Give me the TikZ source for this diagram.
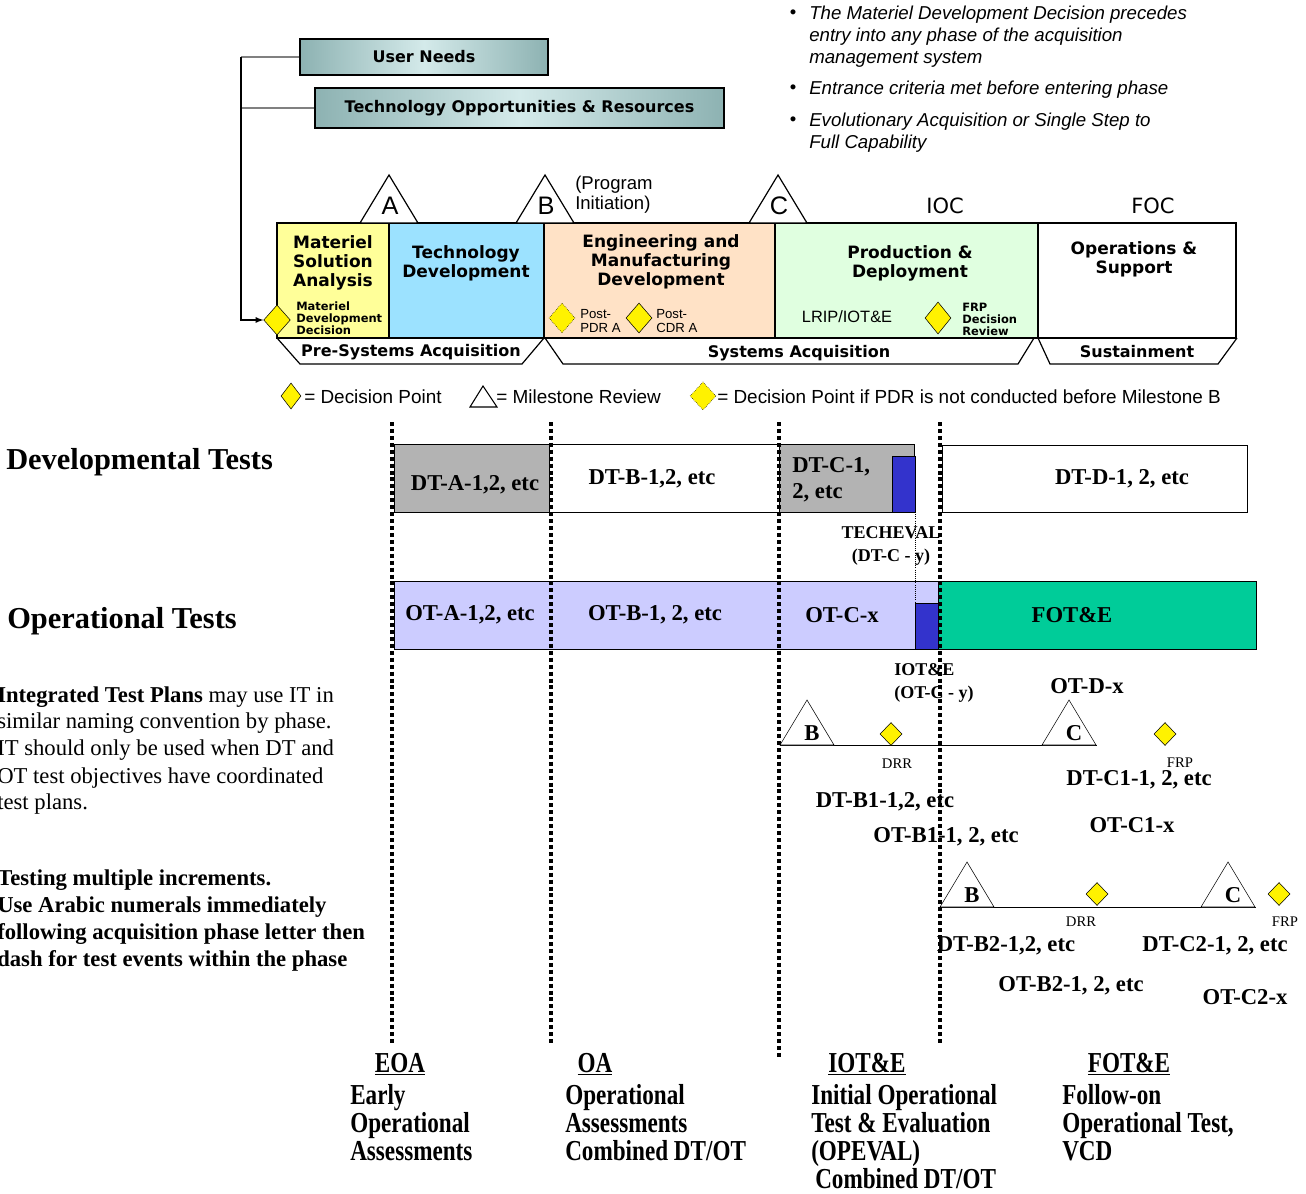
\documentclass[tikz,border=0pt]{standalone}
\usepackage{fontspec}
\setmainfont{Liberation Serif}
\newfontfamily\verd{DejaVu Sans}
\newfontfamily\arial{Liberation Sans}
\newfontfamily\narrowserif[FakeStretch=0.8]{Liberation Serif}
\usetikzlibrary{shapes.geometric}

\definecolor{needsteal}{HTML}{8DB2B2}
\definecolor{needslight}{HTML}{D4EAEA}
\definecolor{msayellow}{HTML}{FFFF99}
\definecolor{tdblue}{HTML}{9CE2FF}
\definecolor{emdpeach}{HTML}{FFE2C6}
\definecolor{pdgreen}{HTML}{E0FFE0}
\definecolor{dtgray}{HTML}{B3B3B3}
\definecolor{otlav}{HTML}{CCCCFF}
\definecolor{evalblue}{HTML}{3333CC}
\definecolor{fotgreen}{HTML}{00CC99}

\tikzset{
  inputbox/.style={draw, line width=1pt, left color=needsteal, right color=needsteal,
    middle color=needslight, font=\verd\bfseries\fontsize{12}{14}\selectfont, inner sep=0pt},
  phasename/.style={font=\verd\bfseries\fontsize{12.75}{14.25}\selectfont, align=center},
  tinytxt/.style={font=\verd\bfseries\fontsize{8.6}{9}\selectfont, align=left, anchor=west, inner sep=0pt},
  smallarial/.style={font=\arial\fontsize{9.9}{10.5}\selectfont, align=left, anchor=west, inner sep=0pt},
  band/.style={font=\verd\bfseries\fontsize{12}{14}\selectfont},
  capstone/.style={font=\verd\fontsize{15.75}{18}\selectfont},
  mslabel/.style={font=\arial\fontsize{19}{20}\selectfont, inner sep=0pt},
  legendtxt/.style={font=\arial\fontsize{14.2}{15}\selectfont, anchor=west, inner sep=0pt},
  bullettxt/.style={font=\arial\itshape\fontsize{14}{16.5}\selectfont, align=left,
    anchor=north west, inner sep=0pt},
  decision/.style={diamond, draw, fill=yellow, inner sep=0pt, minimum width=19.5pt, minimum height=22.5pt},
  pdrpoint/.style={decision, densely dotted},
  incdec/.style={decision, minimum width=16.5pt, minimum height=17.25pt},
  testlbl/.style={font=\bfseries\fontsize{17}{19.5}\selectfont, inner sep=0pt},
  smalllbl/.style={font=\bfseries\fontsize{13.5}{17}\selectfont, align=center, inner sep=0pt},
  reviewlbl/.style={font=\fontsize{11}{12}\selectfont, inner sep=0pt},
  rowtitle/.style={font=\bfseries\fontsize{22.8}{26}\selectfont, anchor=west, inner sep=0pt},
  notetxt/.style={font=\fontsize{17}{20.25}\selectfont, align=left, anchor=north west, inner sep=0pt},
  headtxt/.style={font=\narrowserif\bfseries\fontsize{21.7}{21}\selectfont, inner sep=0pt},
  blocktxt/.style={font=\narrowserif\bfseries\fontsize{21.7}{21}\selectfont, align=left,
    anchor=north west, inner sep=0pt},
  phaseline/.style={line width=2.7pt, dash pattern=on 3pt off 2.2pt},
}

\begin{document}
\begin{tikzpicture}[x=0.75pt, y=-0.75pt]
\useasboundingbox (0,0) rectangle (1306,1194);
\clip (0,0) rectangle (1306,1194);

% inputs to the materiel development decision
\node[inputbox, minimum width=186pt, minimum height=27pt] (needs) at (424,57) {User Needs};
\node[inputbox, minimum width=306.75pt, minimum height=30pt] (techopp) at (519.5,108)
  {Technology Opportunities \& Resources};
\coordinate (rail) at (241,57);

% phases
\filldraw[line width=0.9pt, fill=msayellow] (277,223) rectangle (389,338);
\filldraw[line width=0.9pt, fill=tdblue] (389,223) rectangle (544,338);
\filldraw[line width=0.9pt, fill=emdpeach] (544,223) rectangle (775,338);
\filldraw[line width=0.9pt, fill=pdgreen] (775,223) rectangle (1038,338);
\draw[line width=0.9pt] (1038,223) rectangle (1236,338);

\node[phasename] (msa) at (333,263) {Materiel\\Solution\\Analysis};
\node[phasename] (td) at (466,263) {Technology\\Development};
\node[phasename] (emd) at (661,262) {Engineering and\\Manufacturing\\Development};
\node[phasename] (pd) at (910,263) {Production \&\\Deployment};
\node[phasename] (os) at (1134,259) {Operations \&\\Support};

\node[decision, minimum width=20pt] (mdd) at (277,320) {};
\node[tinytxt] (mddtxt) at (296,318) {Materiel\\Development\\Decision};
\node[pdrpoint] (postpdr) at (562,318) {};
\node[smallarial] (postpdrtxt) at (580,321) {Post-\\PDR A};
\node[decision] (postcdr) at (639,318) {};
\node[smallarial] (postcdrtxt) at (656,321) {Post-\\CDR A};
\node[font=\arial\fontsize{12.3}{14}\selectfont] (lrip) at (847,317) {LRIP/IOT\&E};
\node[decision, minimum height=24pt] (frp) at (938,318) {};
\node[tinytxt] (frptxt) at (962,319) {FRP\\Decision\\Review};

\draw[gray, line width=1pt] (needs.west) -- (rail);
\draw[gray, line width=1pt] (techopp.west) -- (techopp.west -| rail);
\draw[line width=1pt, -latex] (rail) |- (mdd.west);

% milestones
\foreach \x/\l in {389/A, 545/B, 778/C} {
  \draw[line width=0.9pt, fill=white] (\x-29,223) -- (\x,175) -- (\x+29,223) -- cycle;
  \node[mslabel] (ms\l) at (\x+1,206) {\l};
}
\node[font=\arial\fontsize{13.9}{15}\selectfont, align=left, anchor=west, inner sep=0pt]
  (proginit) at (575,195) {(Program\\Initiation)};
\node[capstone] (ioc) at (945,206) {IOC};
\node[capstone] (foc) at (1153,206) {FOC};

% acquisition bands
\draw[line width=0.9pt] (277,338) -- (300,364) -- (522,364) -- (544,338);
\draw[line width=0.9pt] (545,338) -- (563,364) -- (1018,364) -- (1034,338);
\draw[line width=0.9pt] (1038,338) -- (1050,364) -- (1218,364) -- (1237,338);
\node[band] (presys) at (411,352) {Pre-Systems Acquisition};
\node[band] (sysacq) at (799,353) {Systems Acquisition};
\node[band] (sustain) at (1137,352) {Sustainment};

% legend
\node[decision, minimum width=15pt, minimum height=19.5pt] (keydec) at (291,396) {};
\node[legendtxt] (keydectxt) at (304,397) {= Decision Point};
\draw[line width=0.8pt] (470,407) -- (483,386) -- (497,407) -- cycle;
\node[legendtxt] (keymstxt) at (496,397) {= Milestone Review};
\node[pdrpoint, minimum height=21pt] (keypdr) at (703,396) {};
\node[legendtxt] (keypdrtxt) at (717,397) {= Decision Point if PDR is not conducted before Milestone B};

% notes
\foreach \y/\n in {14/1, 89/2, 121/3}
  \node[font=\arial\fontsize{13.9}{15}\selectfont, inner sep=0pt] (dot\n) at (793,\y) {\textbullet};
\node[bullettxt] (note1) at (809,6) {The Materiel Development Decision precedes\\entry into any phase of the acquisition\\management system};
\node[bullettxt] (note2) at (809,81) {Entrance criteria met before entering phase};
\node[bullettxt] (note3) at (809,113) {Evolutionary Acquisition or Single Step to\\Full Capability};

% test rows
\node[rowtitle] (dtrow) at (6,462) {Developmental Tests};
\node[rowtitle] (otrow) at (7,621) {Operational Tests};

\filldraw[fill=dtgray] (394,444) rectangle (549,512);
\draw (549,444) rectangle (779,512);
\filldraw[fill=dtgray] (779,444) rectangle (914,512);
\filldraw[fill=evalblue] (892,456) rectangle (915,512);
\draw (942,445) rectangle (1247,512);
\node[testlbl] (dta) at (475,485) {DT-A-1,2, etc};
\node[testlbl] (dtb) at (652,479) {DT-B-1,2, etc};
\node[testlbl, align=left, anchor=west] (dtc) at (792,480) {DT-C-1,\\2, etc};
\node[testlbl] (dtd) at (1122,479) {DT-D-1, 2, etc};
\node[smalllbl] (techeval) at (891,546) {TECHEVAL\\(DT-C - y)};

\filldraw[fill=otlav] (394,581) rectangle (938,649);
\filldraw[fill=evalblue] (915,603) rectangle (938,649);
\filldraw[fill=fotgreen] (938,581) rectangle (1256,649);
\node[testlbl] (ota) at (470,615) {OT-A-1,2, etc};
\node[testlbl] (otb) at (655,615) {OT-B-1, 2, etc};
\node[testlbl] (otc) at (842,615) {OT-C-x};
\node[testlbl] (fote) at (1072,615) {FOT\&E};
\node[smalllbl, align=left, anchor=west] (ioteval) at (894,683) {IOT\&E\\(OT-C - y)};
\node[testlbl] (otd) at (1087,686) {OT-D-x};

% increments
\draw (780,745) -- (1097,745);
\draw (940,907) -- (1256,907);
\foreach \x/\y/\l/\n in {807/745/B/bone, 1069/745/C/cone, 967/907/B/btwo, 1228/907/C/ctwo} {
  \draw[fill=white] (\x-27,\y) -- (\x,\y-45) -- (\x+27,\y) -- cycle;
  \node[testlbl] (\n) at (\x+5,\y-12) {\l};
}
\node[incdec] (drrone) at (891,734) {};
\node[incdec] (frpone) at (1165,734) {};
\node[incdec] (drrtwo) at (1097,894) {};
\node[incdec] (frptwo) at (1279,894) {};
\node[reviewlbl] (drronetxt) at (897,764) {DRR};
\node[reviewlbl] (frponetxt) at (1180,763) {FRP};
\node[reviewlbl] (drrtwotxt) at (1081,922) {DRR};
\node[reviewlbl] (frptwotxt) at (1285,922) {FRP};

\node[testlbl] (dtbone) at (885,802) {DT-B1-1,2, etc};
\node[testlbl] (otbone) at (946,837) {OT-B1-1, 2, etc};
\node[testlbl] (dtcone) at (1139,780) {DT-C1-1, 2, etc};
\node[testlbl] (otcone) at (1132,825) {OT-C1-x};
\node[testlbl] (dtbtwo) at (1006,946) {DT-B2-1,2, etc};
\node[testlbl] (otbtwo) at (1071,986) {OT-B2-1, 2, etc};
\node[testlbl] (dtctwo) at (1215,946) {DT-C2-1, 2, etc};
\node[testlbl] (otctwo) at (1245,997) {OT-C2-x};

% naming notes
\node[notetxt] (itp) at (-3,686) {\textbf{Integrated Test Plans} may use IT in\\similar naming convention by phase.\\IT should only be used when DT and\\OT test objectives have coordinated\\test plans.};
\node[notetxt, font=\bfseries\fontsize{17}{20.25}\selectfont] (incr) at (-3,869)
  {Testing multiple increments.\\Use Arabic numerals immediately\\following acquisition phase letter then\\dash for test events within the phase};

% phase boundaries
\foreach \x/\b in {392/1045, 551/1045, 779/1057, 940/1045}
  \draw[phaseline] (\x,422) -- (\x,\b);
\draw[densely dotted, line width=0.6pt] (915,512) -- (915,620);

% test types
\node[headtxt] (eoa) at (400,1064) {\underline{EOA}};
\node[blocktxt] (eoatxt) at (350,1084) {Early\\Operational\\Assessments};
\node[headtxt] (oa) at (595,1064) {\underline{OA}};
\node[blocktxt] (oatxt) at (565,1084) {Operational\\Assessments\\Combined DT/OT};
\node[headtxt] (iote) at (867,1064) {\underline{IOT\&E}};
\node[blocktxt] (iotetxt) at (811,1084) {Initial Operational\\Test \& Evaluation\\(OPEVAL)\\\hspace*{3pt}Combined DT/OT};
\node[headtxt] (fotetitle) at (1129,1064) {\underline{FOT\&E}};
\node[blocktxt] (fotetxt) at (1062,1084) {Follow-on\\ Operational Test,\\VCD};
\end{tikzpicture}
\end{document}
